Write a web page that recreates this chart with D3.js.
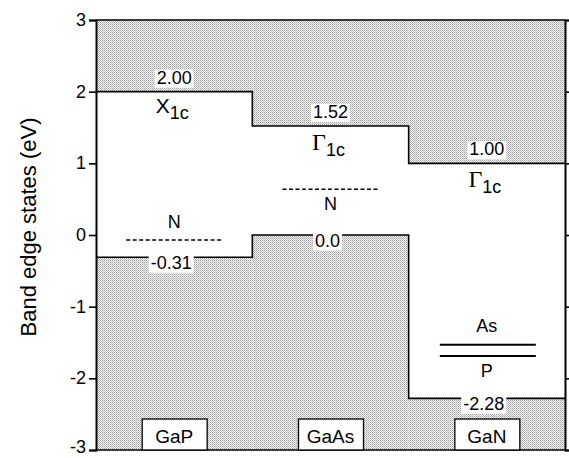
<!DOCTYPE html>
<html><head><meta charset="utf-8">
<script src="https://cdn.jsdelivr.net/npm/d3@7/dist/d3.min.js"></script>
<style>body{margin:0;background:#fff}svg{display:block}</style>
</head><body>
<svg id="c" width="569" height="458"></svg>
<script>
const materials = ["GaP", "GaAs", "GaN"];
const cbEdge = [2.00, 1.52, 1.00];
const vbEdge = [-0.31, 0.0, -2.28];
const cbLabel = ["2.00", "1.52", "1.00"];
const vbLabel = ["-0.31", "0.0", "-2.28"];
const cbSymbol = ["X", "\u0393", "\u0393"];
const cbSub = ["1c", "1c", "1c"];
const nLevelMaterials = ["GaP", "GaAs"];
const nLevels = [-0.07, 0.64];
const gaNImpurities = ["As", "P"];
const gaNImpurityLevels = [-1.53, -1.69];
const yTicks = [-3, -2, -1, 0, 1, 2, 3];
const yTickLabels = ["-3", "-2", "-1", "0", "1", "2", "3"];
const yTitle = "Band edge states (eV)";

const svg = d3.select("#c");
const x = d3.scaleBand().domain(materials).range([96, 565]).padding(0);
const y = d3.scaleLinear().domain([-3, 3]).range([450, 20]);
const font = "'Liberation Sans', Arial, Helvetica, sans-serif";

// pattern
const defs = svg.append("defs");
const pat = defs.append("pattern").attr("id", "dots").attr("patternUnits", "userSpaceOnUse")
  .attr("width", 2).attr("height", 2);
pat.append("rect").attr("width", 2).attr("height", 2).attr("fill", "#f2f2f2");
pat.append("rect").attr("width", 1).attr("height", 1).attr("fill", "#a2a2a2");
pat.append("rect").attr("x", 1).attr("y", 1).attr("width", 1).attr("height", 1).attr("fill", "#c2c2c2");

// shaded regions
materials.forEach((m, i) => {
  svg.append("rect").attr("x", x(m)).attr("width", x.bandwidth())
    .attr("y", y(3)).attr("height", y(cbEdge[i]) - y(3)).attr("fill", "url(#dots)");
  svg.append("rect").attr("x", x(m)).attr("width", x.bandwidth())
    .attr("y", y(vbEdge[i])).attr("height", y(-3) - y(vbEdge[i])).attr("fill", "url(#dots)");
});

// step edges
const stepPts = vals => materials.flatMap((m, i) => [[x(m), y(vals[i])], [x(m) + x.bandwidth(), y(vals[i])]]);
const line = d3.line();
svg.append("path").attr("d", line(stepPts(cbEdge))).attr("fill", "none").attr("stroke", "#000").attr("stroke-width", 1.6);
svg.append("path").attr("d", line(stepPts(vbEdge))).attr("fill", "none").attr("stroke", "#000").attr("stroke-width", 1.6);

// frame top/bottom
svg.append("line").attr("x1", x.range()[0]).attr("x2", x.range()[1]).attr("y1", y(3)).attr("y2", y(3)).attr("stroke", "#000").attr("stroke-width", 1.5);
svg.append("line").attr("x1", x.range()[0]).attr("x2", x.range()[1]).attr("y1", y(-3)).attr("y2", y(-3)).attr("stroke", "#000").attr("stroke-width", 1.5);

// axes
const yAxisL = svg.append("g").attr("transform", `translate(${x.range()[0]},0)`)
  .call(d3.axisLeft(y).tickValues(yTicks).tickSize(7).tickPadding(3)
    .tickFormat(d => yTickLabels[yTicks.indexOf(d)]));
yAxisL.select(".domain").attr("stroke-width", 2);
yAxisL.selectAll(".tick line").attr("stroke-width", 1.6);
yAxisL.selectAll("text").attr("font-family", font).attr("font-size", 18).attr("fill", "#000")
  .attr("dy", d => d === -3 ? "0.12em" : "0.3em");
const yAxisR = svg.append("g").attr("transform", `translate(${x.range()[1]},0)`)
  .call(d3.axisRight(y).tickValues(yTicks).tickSize(4).tickFormat(""));
yAxisR.select(".domain").attr("stroke-width", 2);
yAxisR.selectAll(".tick line").attr("stroke-width", 1.6);

svg.append("text").attr("transform", `translate(28,${(y(3)+y(-3))/2 - 8}) rotate(-90)`)
  .attr("text-anchor", "middle").attr("dominant-baseline", "central")
  .attr("font-family", font).attr("font-size", 22).text(yTitle);

// labels with white background
function boxedText(cx, cy, txt, size) {
  const g = svg.append("g");
  const t = g.append("text").attr("x", cx).attr("y", cy).attr("text-anchor", "middle")
    .attr("dominant-baseline", "central").attr("font-family", font).attr("font-size", size).text(txt);
  const b = t.node().getBBox();
  g.insert("rect", "text").attr("x", b.x - 2).attr("y", b.y + 2).attr("width", b.width + 4).attr("height", b.height - 2).attr("fill", "#fff");
}
materials.forEach((m, i) => {
  const cx = x(m) + x.bandwidth() / 2;
  boxedText(cx, y(cbEdge[i]) - 14, cbLabel[i], 18);
  boxedText(cx - 3, y(vbEdge[i]) + 5.5, vbLabel[i], 18);
  const st = svg.append("text").attr("x", cx - 2).attr("y", y(cbEdge[i]) + (i === 0 ? 21 : 24)).attr("text-anchor", "middle");
  st.append("tspan").attr("font-family", i === 0 ? font : "'Liberation Serif', 'Times New Roman', serif")
    .attr("font-size", i === 0 ? 21 : 24).text(cbSymbol[i]);
  st.append("tspan").attr("font-family", font).attr("font-size", 18).attr("dy", 6).text(cbSub[i]);
  // bottom material boxes
  const g = svg.append("g");
  g.append("rect").attr("x", cx - 32).attr("y", 419).attr("width", 65).attr("height", y(-3) - 419)
    .attr("fill", "#fff").attr("stroke", "#000").attr("stroke-width", 1.3);
  g.append("text").attr("x", cx).attr("y", 443).attr("text-anchor", "middle")
    .attr("font-family", font).attr("font-size", 19).text(m);
});

// N levels
nLevelMaterials.forEach((m, i) => {
  const cx = x(m) + x.bandwidth() / 2;
  svg.append("line").attr("x1", cx - 48).attr("x2", cx + 48).attr("y1", y(nLevels[i])).attr("y2", y(nLevels[i]))
    .attr("stroke", "#000").attr("stroke-width", 1.5).attr("stroke-dasharray", "4,2.5");
  const ny = i === 0 ? y(nLevels[i]) - 18 : y(nLevels[i]) + 15;
  svg.append("text").attr("x", cx).attr("y", ny).attr("text-anchor", "middle").attr("dominant-baseline", "central")
    .attr("font-family", font).attr("font-size", 18).text("N");
});

// GaN impurity levels
const gx = x("GaN") + x.bandwidth() / 2;
gaNImpurities.forEach((name, i) => {
  const ly = y(gaNImpurityLevels[i]);
  svg.append("line").attr("x1", gx - 47).attr("x2", gx + 49).attr("y1", ly).attr("y2", ly)
    .attr("stroke", "#000").attr("stroke-width", 2);
  svg.append("text").attr("x", gx).attr("y", i === 0 ? ly - 19 : ly + 15).attr("text-anchor", "middle")
    .attr("dominant-baseline", "central").attr("font-family", font).attr("font-size", 18).text(name);
});
</script>
</body></html>
